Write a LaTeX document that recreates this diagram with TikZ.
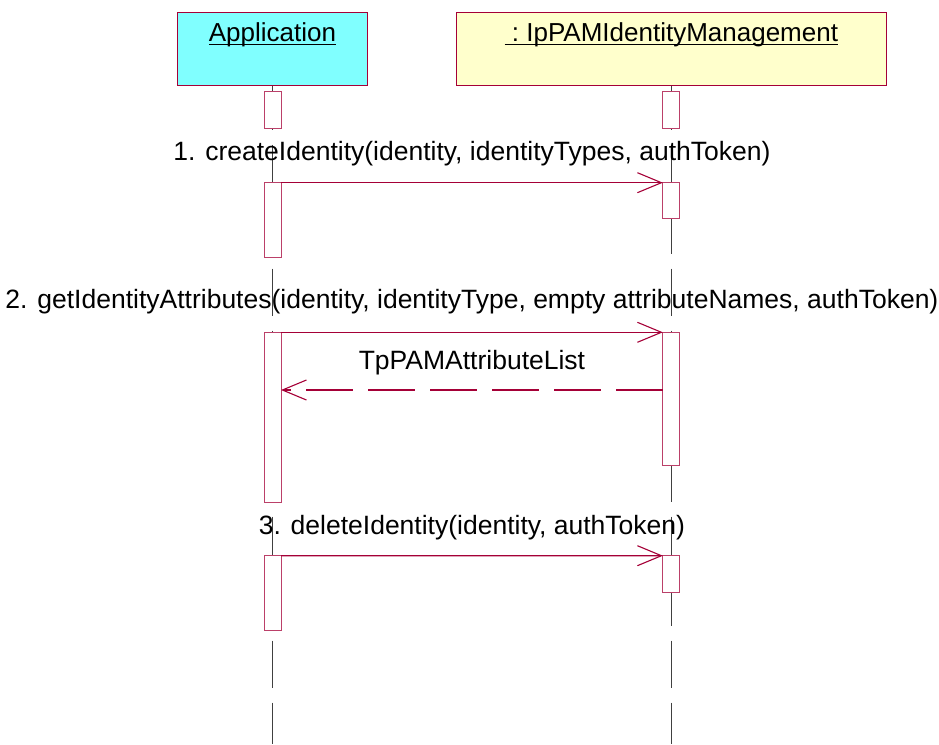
\documentclass[tikz,border=0pt]{standalone}
\usepackage{fontspec}
\setmainfont{Liberation Sans}
\usepackage{tikz}
\usetikzlibrary{arrows.meta, positioning}
\definecolor{umlred}{RGB}{165,0,55}
\definecolor{appcyan}{RGB}{128,255,255}
\definecolor{objyellow}{RGB}{255,255,204}
\newcommand\ulname[1]{\setbox0\hbox{#1}\rlap{\rule[-3.6pt]{\wd0}{1.6pt}}\box0}
\tikzstyle{head} = [rectangle, draw=umlred, line width=1pt, inner sep=0pt, outer sep=0pt, text height=29.4pt, text depth=44pt, font=\fontsize{26}{31}\selectfont]
\tikzstyle{appbox} = [head, fill=appcyan, minimum width=190.4pt]
\tikzstyle{objbox} = [head, fill=objyellow, minimum width=429.3pt]
\tikzstyle{act} = [rectangle, draw=umlred!75, fill=white, line width=1pt, minimum width=17pt, inner sep=0pt, outer sep=0pt]
\tikzstyle{lifeline} = [draw=black!75, line width=0.9pt, dash pattern=on 47pt off 15pt, dash phase=3pt]
\tikzstyle{call} = [draw=umlred, line width=1.1pt, -{Straight Barb[length=24pt, width=20pt]}]
\tikzstyle{reply} = [call, dash pattern=on 47pt off 15pt]
\tikzstyle{msg} = [inner sep=0pt, font=\fontsize{26.5}{31}\selectfont]

\begin{document}
\begin{tikzpicture}[x=1pt, y=-1pt]
        \useasboundingbox (0,0) rectangle (939,744);
        % Objects
        \node [appbox] (app) at (272.5,49) {\ulname{Application}};
        \node [objbox, right=89pt of app] (ipam) {\ulname{\ :\ IpPAMIdentityManagement}};
        \coordinate (append) at (app.south |- 0,744);
        \coordinate (ipamend) at (ipam.south |- 0,744);

        % Lifelines
        \draw [lifeline] (app) -- (append);
        \draw [lifeline] (ipam) -- (ipamend);

        % Activations
        \node [act, minimum height=36.6pt, below=6pt of app] (a1) {};
        \node [act, minimum height=75pt, below=54.4pt of a1] (a2) {};
        \node [act, minimum height=170.4pt, below=74.6pt of a2] (a3) {};
        \node [act, minimum height=75pt, below=53pt of a3] (a4) {};
        \node [act, minimum height=36.6pt, below=6pt of ipam] (b1) {};
        \node [act, minimum height=35.6pt, below=54.4pt of b1] (b2) {};
        \node [act, minimum height=132.7pt, below=114pt of b2] (b3) {};
        \node [act, minimum height=37pt, below=90.7pt of b3] (b4) {};

        % Messages
        \draw [call] (a2.north east) -- coordinate (m1) (b2.north west);
        \node [msg, above=17pt of m1] (l1) {1. createIdentity(identity, identityTypes, authToken)};
        \draw [call] (a3.north east) -- coordinate (m2) (b3.north west);
        \node [msg, above=18.5pt of m2] (l2) {2. getIdentityAttributes(identity, identityType, empty attributeNames, authToken)};
        \coordinate [below=57.7pt of b3.north west] (r0);
        \draw [reply] (r0) -- coordinate (m3) (r0 -| a3.east);
        \node [msg, above=15pt of m3] (l3) {TpPAMAttributeList};
        \draw [call] (a4.north east) -- coordinate (m4) (b4.north west);
        \node [msg, above=16pt of m4] (l4) {3. deleteIdentity(identity, authToken)};
\end{tikzpicture}
\end{document}
